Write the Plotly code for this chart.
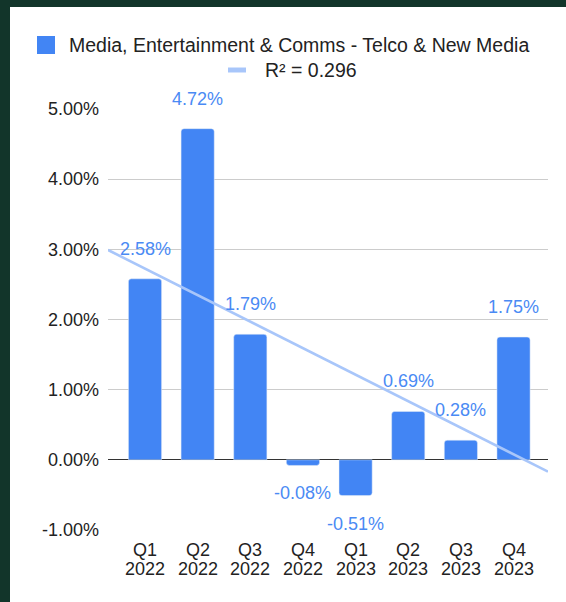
import numpy as np
import plotly.graph_objects as go

quarters = ["Q1", "Q2", "Q3", "Q4", "Q1", "Q2", "Q3", "Q4"]
years = ["2022", "2022", "2022", "2022", "2023", "2023", "2023", "2023"]
values = [2.58, 4.72, 1.79, -0.08, -0.51, 0.69, 0.28, 1.75]
series_name = "Media, Entertainment & Comms - Telco & New Media"
r2_label = "R\u00b2 = 0.296"
y_ticks = [-1, 0, 1, 2, 3, 4, 5]

W, H = 566, 602
ML, MR, MT, MB = 108, 18, 109, 72
PW, PH = W - ML - MR, H - MT - MB

def px(x):
    return (x - ML) / PW

def py(y):
    return (H - MB - y) / PH

idx = np.arange(len(values))
xr = [-0.703, 7.655]
slope, intercept = np.polyfit(idx, values, 1)
tx = np.array(xr)
ty = slope * tx + intercept

BLUE = "#4285F4"
LABEL = "#4A8AF4"
TREND = "#A8C6FA"
FONT = "Liberation Sans, Arial, sans-serif"

fig = go.Figure()
fig.add_trace(go.Bar(x=idx, y=values, marker_color=BLUE, width=0.63,
                     showlegend=False, name=series_name))
fig.add_trace(go.Scatter(x=tx, y=ty, mode="lines",
                         line=dict(color=TREND, width=2.6),
                         showlegend=False, name=r2_label))

ann = []
for i, v in enumerate(values):
    ann.append(dict(x=i, y=v, xref="x", yref="y", text=f"{v:.2f}%",
                    showarrow=False, yanchor="middle",
                    yshift=30 if v >= 0 else -28,
                    font=dict(size=18, color=LABEL, family=FONT)))
    ann.append(dict(x=i, y=py(550), xref="x", yref="paper", text=quarters[i],
                    showarrow=False, yanchor="middle",
                    font=dict(size=18, color="#222", family=FONT)))
    ann.append(dict(x=i, y=py(569), xref="x", yref="paper", text=years[i],
                    showarrow=False, yanchor="middle",
                    font=dict(size=18, color="#222", family=FONT)))

ann.append(dict(x=px(67), y=py(45), xref="paper", yref="paper", text=series_name,
                showarrow=False, xanchor="left", yanchor="middle",
                font=dict(size=19.5, color="#222", family=FONT)))
ann.append(dict(x=px(263), y=py(70), xref="paper", yref="paper", text=r2_label,
                showarrow=False, xanchor="left", yanchor="middle",
                font=dict(size=19.5, color="#222", family=FONT)))

shapes = [
    dict(type="rect", xref="paper", yref="paper", x0=px(0), x1=px(10), y0=py(0), y1=py(602),
         fillcolor="#12352A", line_width=0, layer="above"),
    dict(type="rect", xref="paper", yref="paper", x0=px(0), x1=px(566), y0=py(0), y1=py(7),
         fillcolor="#12352A", line_width=0, layer="above"),
    dict(type="rect", xref="paper", yref="paper", x0=px(37), x1=px(55), y0=py(36), y1=py(54),
         fillcolor=BLUE, line_width=0),
    dict(type="line", xref="paper", yref="paper", x0=px(228), x1=px(246), y0=py(70), y1=py(70),
         line=dict(color=TREND, width=5)),
]

fig.update_layout(
    width=W, height=H,
    margin=dict(l=ML, r=MR, t=MT, b=MB),
    paper_bgcolor="white", plot_bgcolor="white",
    barcornerradius=3,
    font=dict(family=FONT, size=18, color="#222"),
    xaxis=dict(range=xr, showticklabels=False, showgrid=False, zeroline=False,
               fixedrange=True),
    yaxis=dict(range=[-1, 5], tickvals=y_ticks,
               ticktext=[f"{t:.2f}%" for t in y_ticks],
               showgrid=True, gridcolor="#CCCCCC", gridwidth=1,
               zeroline=True, zerolinecolor="#333333", zerolinewidth=1,
               ticks="", ticklabelstandoff=8,
               tickfont=dict(size=18, color="#222", family=FONT)),
    annotations=ann, shapes=shapes,
)

fig.write_html("out.html")
